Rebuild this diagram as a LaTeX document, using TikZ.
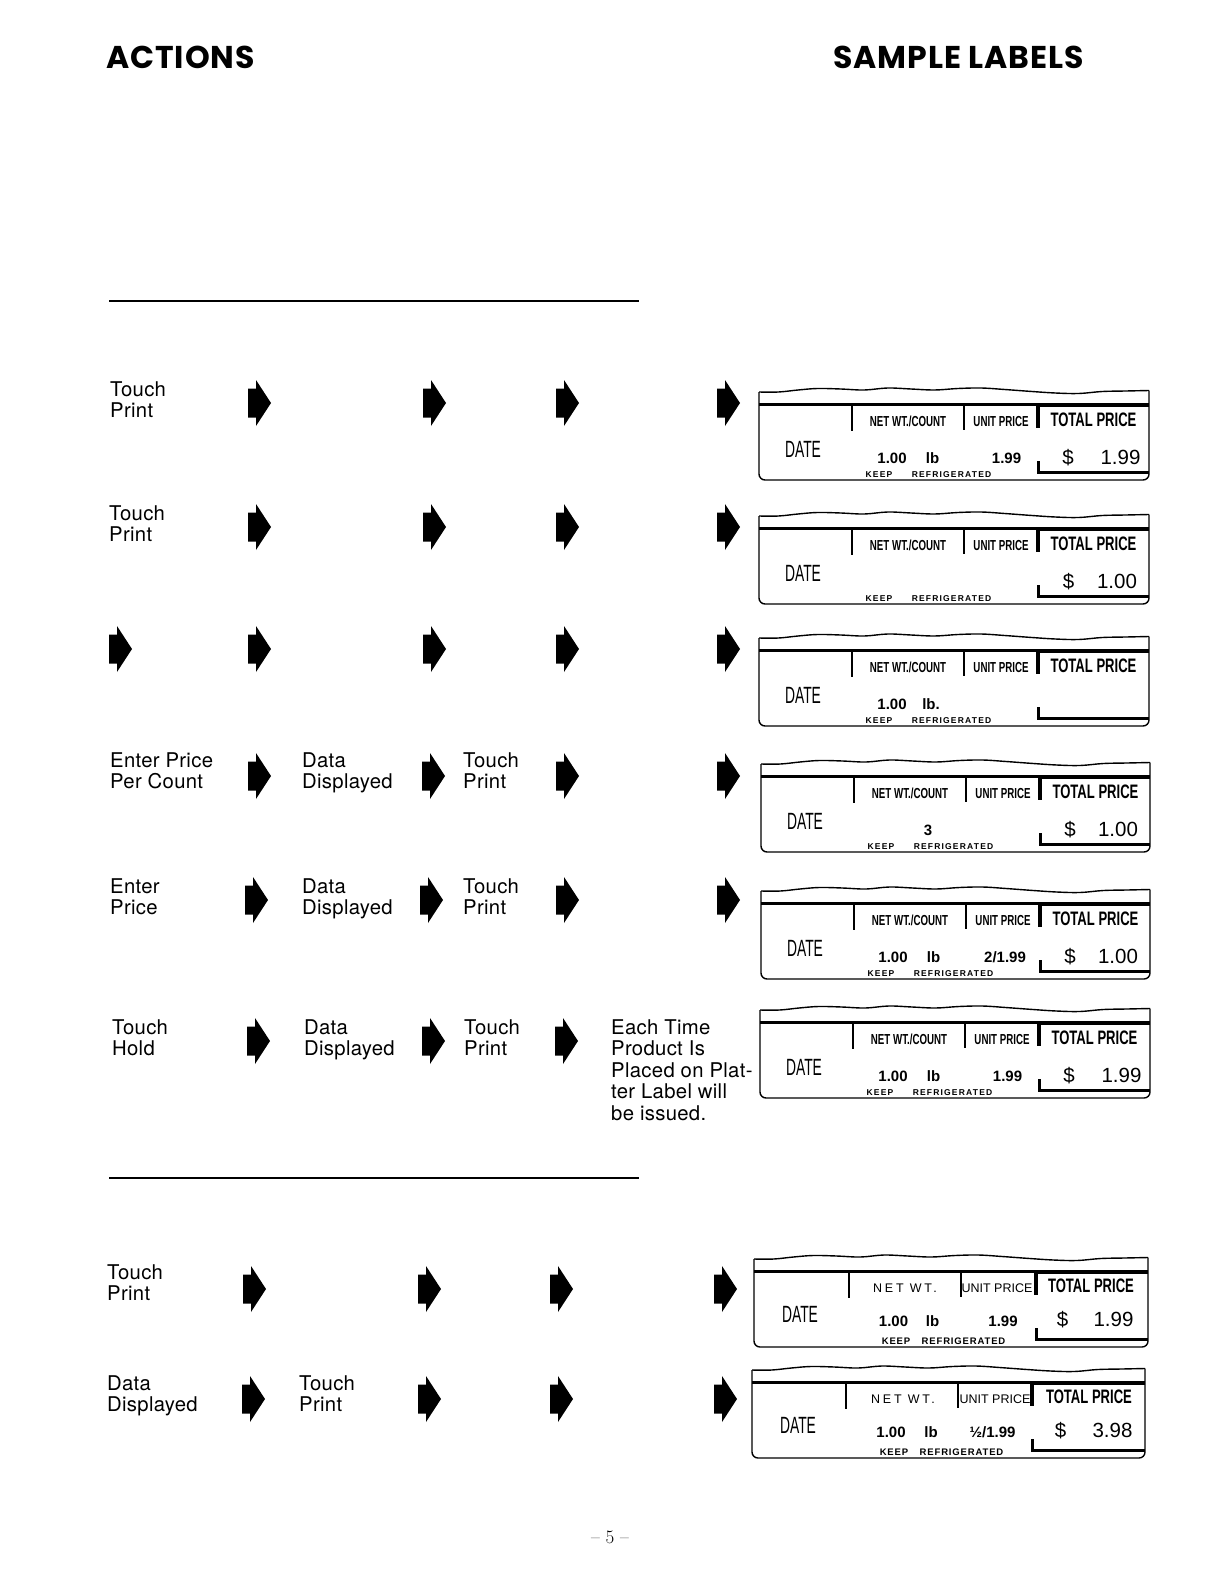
\documentclass[tikz,border=0pt]{standalone}
\usepackage{fontspec}
\newfontfamily\bodyfont[LetterSpace=1.5]{TeX Gyre Heros}
\newfontfamily\hdrfont[LetterSpace=3]{Poppins}
\newfontfamily\lblfont{Liberation Sans}
\newfontfamily\creg[FakeStretch=0.59]{Liberation Sans}
\newfontfamily\cbold[FakeStretch=0.67]{Liberation Sans}
\newfontfamily\keepfont[LetterSpace=14]{Liberation Sans}
\newfontfamily\keepfontb[LetterSpace=9]{Liberation Sans}
\newfontfamily\netfont[LetterSpace=22]{Liberation Sans}
\tikzset{
  body/.style={font=\bodyfont\fontsize{20.3}{24}\selectfont, anchor=base west, inner sep=0pt},
  hdr/.style={font=\hdrfont\bfseries\fontsize{31.5}{36}\selectfont, anchor=base west, inner sep=0pt},
  datetxt/.style={font=\creg\fontsize{23.5}{28}\selectfont, anchor=base, inner sep=0pt},
  colhead/.style={font=\cbold\bfseries\fontsize{14.5}{17}\selectfont, anchor=base, inner sep=0pt},
  totalhead/.style={font=\cbold\bfseries\fontsize{19.5}{23}\selectfont, anchor=base, inner sep=0pt},
  val/.style={font=\lblfont\bfseries\fontsize{15}{18}\selectfont, anchor=base, inner sep=0pt},
  bigval/.style={font=\lblfont\fontsize{20.5}{24}\selectfont, anchor=base, inner sep=0pt},
  keep/.style={font=\keepfont\bfseries\fontsize{8.5}{10}\selectfont, anchor=base, inner sep=0pt},
  keepb/.style={font=\keepfontb\bfseries\fontsize{9.5}{11}\selectfont, anchor=base, inner sep=0pt},
  netb/.style={font=\netfont\fontsize{12.5}{15}\selectfont, anchor=base, inner sep=0pt},
  unitb/.style={font=\lblfont\fontsize{12.5}{15}\selectfont, anchor=base, inner sep=0pt},
  outline/.style={line width=1.4pt},
  rulebar/.style={line width=2.5pt},
}
% block arrow shape at left x, centre y
\newcommand{\blk}[2]{\fill[shift={(#1,#2)}] (0,-14.5) -- (8,-14.5) -- (8,-23) -- (23,0) -- (8,23) -- (8,14.5) -- (0,14.5) -- cycle;}
% two-line text
\newcommand{\twolines}[5]{\node[body] (#1a) at (#2,#3) {#4}; \node[body] (#1b) at (#2,#3+21.5) {#5};}
% label frame: width, dividers
\newcommand{\labelframe}[4]{%
  \draw[outline] plot[smooth, tension=0.6] coordinates {(0,-12) ({0.05*#1},-12) ({0.1*#1},-14) ({0.15*#1},-15.5) ({0.21*#1},-15) ({0.27*#1},-14) ({0.33*#1},-16) ({0.39*#1},-15) ({0.45*#1},-14) ({0.51*#1},-15.5) ({0.57*#1},-16) ({0.63*#1},-14.5) ({0.7*#1},-12.5) ({0.76*#1},-11) ({0.82*#1},-10.5) ({0.88*#1},-12.5) ({0.94*#1},-13) (#1,-13.5)};
  \draw[outline, rounded corners=6pt] (0,-12) -- (0,76) -- (#1,76) -- (#1,-13.5);
  \draw[line width=3pt] (0,0) -- (#1,0);
  \draw[line width=4pt] (#4,0.8) -- (#1,0.8);
  \draw[line width=2pt] (#2,0) -- (#2,27);
  \draw[line width=2pt] (#3,0) -- (#3,26);
  \draw[line width=3.5pt] (#4,0) -- (#4,24);
  \draw[line width=3pt] (#4,57) -- (#4,68) -- (#1,68);
}
\newcommand{\upperheads}[1]{%
  \node[colhead] (#1nw) at (149,22) {NET WT./COUNT};
  \node[colhead] (#1up) at (242,22) {UNIT PRICE};
  \node[totalhead] (#1tp) at (334.5,22) {TOTAL PRICE};
  \node[datetxt] (#1dt) at (44,53) {DATE};
  \node[keep] (#1kp) at (120,73) {KEEP};
  \node[keep] (#1rf) at (192.5,73) {REFRIGERATED};
}
\newcommand{\lowerheads}[1]{%
  \node[netb] (#1nw) at (151,21) {NET WT.};
  \node[unitb] (#1up) at (243,21) {UNIT PRICE};
  \node[totalhead] (#1tp) at (337,21) {TOTAL PRICE};
  \node[datetxt] (#1dt) at (46,51) {DATE};
  \node[keepb] (#1kp) at (142,73) {KEEP};
  \node[keepb] (#1rf) at (209.5,73) {REFRIGERATED};
}
\begin{document}
\begin{tikzpicture}[x=1pt,y=-1pt]
\useasboundingbox (0,0) rectangle (1224,1584);
\fill[white] (0,0) rectangle (1224,1584);

% headers
\node[hdr] (hact) at (106,69) {ACTIONS};
\node[hdr] (hsmp) at (833,69) {SAMPLE LABELS};

% rules
\draw[rulebar] (109,301) -- (639,301);
\draw[rulebar] (109,1178) -- (639,1178);

% row 1
\twolines{r1t}{110}{396}{Touch}{Print}
\blk{248}{403}\blk{423}{403}\blk{556}{403}\blk{717}{403}
% row 2
\twolines{r2t}{109}{520}{Touch}{Print}
\blk{248}{527}\blk{423}{527}\blk{556}{527}\blk{717}{527}
% row 3
\blk{109}{649}\blk{248}{649}\blk{423}{649}\blk{556}{649}\blk{717}{649}
% row 4
\twolines{r4t}{110}{767}{Enter Price}{Per Count}
\twolines{r4d}{302}{767}{Data}{Displayed}
\twolines{r4p}{463}{767}{Touch}{Print}
\blk{248}{776}\blk{422}{776}\blk{556}{776}\blk{717}{776}
% row 5
\twolines{r5t}{110}{893}{Enter}{Price}
\twolines{r5d}{302}{893}{Data}{Displayed}
\twolines{r5p}{463}{893}{Touch}{Print}
\blk{245}{900}\blk{420}{900}\blk{556}{900}\blk{717}{900}
% row 6
\twolines{r6t}{112}{1034}{Touch}{Hold}
\twolines{r6d}{304}{1034}{Data}{Displayed}
\twolines{r6p}{464}{1034}{Touch}{Print}
\blk{247}{1041}\blk{422}{1041}\blk{555}{1041}
\node[body] (e1) at (611,1034) {Each Time};
\node[body] (e2) at (611,1055.5) {Product Is};
\node[body] (e3) at (611,1077) {Placed on Plat-};
\node[body] (e4) at (611,1098.5) {ter Label will};
\node[body] (e5) at (611,1120) {be issued.};
% row 7
\twolines{r7t}{107}{1279}{Touch}{Print}
\blk{243}{1289}\blk{418}{1289}\blk{550}{1289}\blk{714}{1289}
% row 8
\twolines{r8t}{107}{1390}{Data}{Displayed}
\twolines{r8p}{299}{1390}{Touch}{Print}
\blk{242}{1399}\blk{418}{1399}\blk{550}{1399}\blk{714}{1399}

% label 1
\begin{scope}[shift={(759,404)}]
  \labelframe{390}{93}{205}{279}
  \upperheads{la}
  \node[val] (la1) at (133,59) {1.00};
  \node[val] (la2) at (173.5,59) {lb};
  \node[val] (la3) at (247.5,59) {1.99};
  \node[bigval] (la4) at (309,60) {\$};
  \node[bigval] (la5) at (361.5,60) {1.99};
\end{scope}
% label 2
\begin{scope}[shift={(759,528)}]
  \labelframe{390}{93}{205}{279}
  \upperheads{lb}
  \node[bigval] (lb4) at (309.5,60) {\$};
  \node[bigval] (lb5) at (358,60) {1.00};
\end{scope}
% label 3
\begin{scope}[shift={(759,650)}]
  \labelframe{390}{93}{205}{279}
  \upperheads{lc}
  \node[val] (lc1) at (133,59) {1.00};
  \node[val] (lc2) at (172,59) {lb.};
\end{scope}
% label 4
\begin{scope}[shift={(761,776)}]
  \labelframe{389}{93}{205}{279}
  \upperheads{ld}
  \node[val] (ld1) at (167,59) {3};
  \node[bigval] (ld4) at (309,60) {\$};
  \node[bigval] (ld5) at (357,60) {1.00};
\end{scope}
% label 5
\begin{scope}[shift={(761,903)}]
  \labelframe{389}{93}{205}{279}
  \upperheads{le}
  \node[val] (le1) at (132,59) {1.00};
  \node[val] (le2) at (172.5,59) {lb};
  \node[val] (le3) at (244,59) {2/1.99};
  \node[bigval] (le4) at (309,60) {\$};
  \node[bigval] (le5) at (357,60) {1.00};
\end{scope}
% label 6
\begin{scope}[shift={(760,1022)}]
  \labelframe{390}{93}{205}{279}
  \upperheads{lf}
  \node[val] (lf1) at (133,59) {1.00};
  \node[val] (lf2) at (173.5,59) {lb};
  \node[val] (lf3) at (247.5,59) {1.99};
  \node[bigval] (lf4) at (309,60) {\$};
  \node[bigval] (lf5) at (361.5,60) {1.99};
\end{scope}
% label 7
\begin{scope}[shift={(754,1271)}]
  \labelframe{394}{95}{207}{282}
  \lowerheads{lg}
  \node[val] (lg1) at (139.5,55) {1.00};
  \node[val] (lg2) at (178.5,55) {lb};
  \node[val] (lg3) at (249,55) {1.99};
  \node[bigval] (lg4) at (308.5,55) {\$};
  \node[bigval] (lg5) at (359.5,55) {1.99};
\end{scope}
% label 8
\begin{scope}[shift={(752,1382)}]
  \labelframe{393}{94}{206}{280}
  \lowerheads{lh}
  \node[val] (lh1) at (139,55) {1.00};
  \node[val] (lh2) at (179,55) {lb};
  \node[val] (lh3) at (240.5,55) {½/1.99};
  \node[bigval] (lh4) at (308.5,55) {\$};
  \node[bigval] (lh5) at (360.5,55) {3.98};
\end{scope}

% page number
\node[font=\fontsize{19}{22}\selectfont, anchor=center, inner sep=0pt] (pg) at (610,1537) {-- 5 --};
\end{tikzpicture}
\end{document}
